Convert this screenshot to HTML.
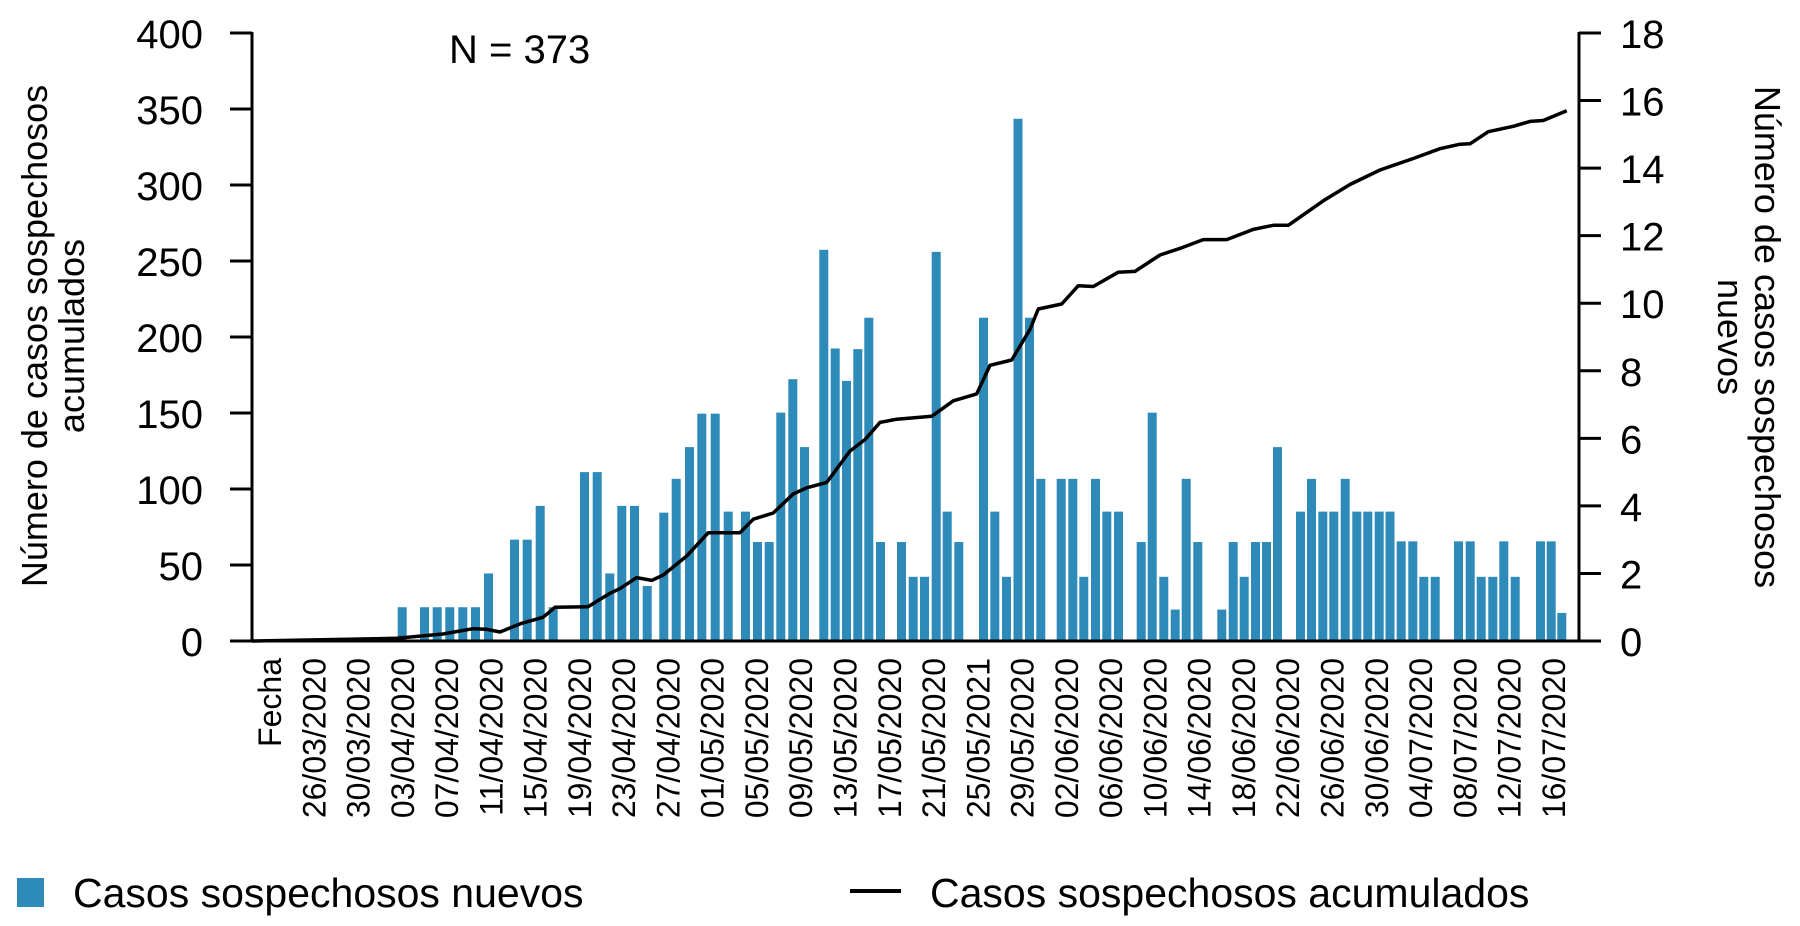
<!DOCTYPE html>
<html><head><meta charset="utf-8"><style>
html,body{margin:0;padding:0;background:#fff;}
svg{display:block;font-family:"Liberation Sans",Arial,sans-serif;}
</style></head><body>
<svg id="s" width="1800" height="926" viewBox="0 0 1800 926" xmlns="http://www.w3.org/2000/svg">
<g id="bars" fill="#2E8AB8"></g>
<polyline fill="none" stroke="#000" stroke-width="3.5" stroke-linejoin="round" points="252,641 396.7,638.3 443,634 473,628.7 486.7,629.3 500,632 521.7,623.3 543,617.3 555,607.3 588,606.7 610,593.3 620,588.6 636.7,577.6 651.7,580.4 663.3,575 686.7,556 708.3,532.7 740,532.7 753.3,519.2 773.3,513 793.3,493.9 806.7,487.8 826.7,482.4 850,451 865,439.6 880,422.4 896.7,419.2 931.7,416.3 953.3,400.8 976.7,393.9 990,365.3 1011.7,360 1030,329.4 1038.3,309 1061.7,304 1078.3,285.7 1093.3,286.5 1118.3,272.2 1135,271.4 1160,255 1181.7,247.8 1203.3,239.6 1226.7,239.6 1253.3,229.4 1273.3,225.3 1288.3,225.3 1323.3,200.8 1350,184.5 1380,170 1413.3,158.5 1440,148.7 1460,144.2 1470,143.8 1488.3,131.7 1513.3,126.3 1530,121.4 1543.3,120.5 1566.7,110.7"/>
<g stroke="#000" stroke-width="3" fill="none">
<line x1="252" y1="32" x2="252" y2="642"/>
<line x1="1579" y1="32" x2="1579" y2="642"/>
<line x1="230" y1="641" x2="1601" y2="641"/>
<g id="ticks"></g>
</g>
<g font-size="40" text-anchor="end" fill="#000">
<text x="203" y="48">400</text><text x="203" y="124">350</text><text x="203" y="200">300</text><text x="203" y="276">250</text><text x="203" y="352">200</text><text x="203" y="428">150</text><text x="203" y="504">100</text><text x="203" y="580">50</text><text x="203" y="656">0</text>
</g>
<g font-size="40" text-anchor="start" fill="#000">
<text x="1620" y="48">18</text><text x="1620" y="115.6">16</text><text x="1620" y="183.1">14</text><text x="1620" y="250.7">12</text><text x="1620" y="318.2">10</text><text x="1620" y="385.8">8</text><text x="1620" y="453.3">6</text><text x="1620" y="520.9">4</text><text x="1620" y="588.4">2</text><text x="1620" y="656">0</text>
</g>
<text x="449" y="63" font-size="40">N = 373</text>
<g font-size="36" text-anchor="middle">
<text transform="translate(47,336) rotate(-90)">Número de casos sospechosos</text>
<text transform="translate(84,336) rotate(-90)">acumulados</text>
<text transform="translate(1755,337) rotate(90)">Número de casos sospechosos</text>
<text transform="translate(1718,337) rotate(90)">nuevos</text>
</g>
<g id="xl" font-size="32" text-anchor="end"></g>
<rect x="17" y="878" width="27" height="29" fill="#2E8AB8"/>
<text x="73" y="907" font-size="41">Casos sospechosos nuevos</text>
<line x1="850" y1="891" x2="901" y2="891" stroke="#000" stroke-width="4"/>
<text x="930" y="907" font-size="41">Casos sospechosos acumulados</text>
</svg>
<script>
var ns="http://www.w3.org/2000/svg";
var B=[[397.7,1],[420,1],[432.7,1],[445.3,1],[458.3,1],[471,1],[484,2],[510,3],[522.7,3],[535.7,4],[548.7,1],[580,5],[592.7,5],[605.3,2],[617.3,4],[630,4],[642.7,1.63],[659.3,3.8],[671.7,4.8],[685,5.74],[697.3,6.73],[710.7,6.73],[723.7,3.83],[741,3.83],[753,2.93],[764.7,2.93],[776.3,6.76],[788.3,7.75],[800,5.74],[819.3,11.58],[830.7,8.66],[842,7.7],[853.3,8.64],[864.3,9.57],[876,2.93],[897,2.93],[908.7,1.9],[920,1.9],[931.7,11.52],[942.7,3.83],[954.3,2.93],[979,9.57],[990.3,3.83],[1002,1.9],[1013.5,15.46],[1025,9.57],[1036.3,4.8],[1056.7,4.8],[1068.3,4.8],[1079.3,1.9],[1091,4.8],[1102.3,3.83],[1114,3.83],[1136.7,2.93],[1147.7,6.76],[1159.3,1.9],[1170.7,0.93],[1181.7,4.8],[1193.3,2.93],[1217.3,0.93],[1228.7,2.93],[1239.7,1.9],[1251,2.93],[1262,2.93],[1273,5.74],[1296,3.83],[1307,4.8],[1318.3,3.83],[1329.3,3.83],[1340.7,4.8],[1352.3,3.83],[1363.3,3.83],[1374.7,3.83],[1385.5,3.83],[1396.7,2.95],[1408.3,2.95],[1419.3,1.9],[1430.7,1.9],[1454,2.95],[1465.7,2.95],[1476.7,1.9],[1488.3,1.9],[1499.3,2.95],[1510.7,1.9],[1536,2.95],[1546.7,2.95],[1557.3,0.83]];
var g=document.getElementById("bars");
B.forEach(function(b){var h=b[1]*33.78;var r=document.createElementNS(ns,"rect");r.setAttribute("x",b[0]);r.setAttribute("y",641-h);r.setAttribute("width",9);r.setAttribute("height",h);g.appendChild(r);});
var t=document.getElementById("ticks");
for(var k=0;k<=8;k++){var y=641-k*76;var l=document.createElementNS(ns,"line");l.setAttribute("x1",230);l.setAttribute("x2",252);l.setAttribute("y1",y);l.setAttribute("y2",y);t.appendChild(l);}
for(var k=0;k<=9;k++){var y=641-k*608/9;var l=document.createElementNS(ns,"line");l.setAttribute("x1",1579);l.setAttribute("x2",1601);l.setAttribute("y1",y);l.setAttribute("y2",y);t.appendChild(l);}
</script>
<script>
var labs=["Fecha","26/03/2020","30/03/2020","03/04/2020","07/04/2020","11/04/2020","15/04/2020","19/04/2020","23/04/2020","27/04/2020","01/05/2020","05/05/2020","09/05/2020","13/05/2020","17/05/2020","21/05/2020","25/05/2021","29/05/2020","02/06/2020","06/06/2020","10/06/2020","14/06/2020","18/06/2020","22/06/2020","26/06/2020","30/06/2020","04/07/2020","08/07/2020","12/07/2020","16/07/2020"];
var xl=document.getElementById("xl");
labs.forEach(function(s,i){var x=270+i*44.27+11;var e=document.createElementNS(ns,"text");e.setAttribute("transform","translate("+x+",658) rotate(-90)");e.textContent=s;xl.appendChild(e);});
</script>
</body></html>
